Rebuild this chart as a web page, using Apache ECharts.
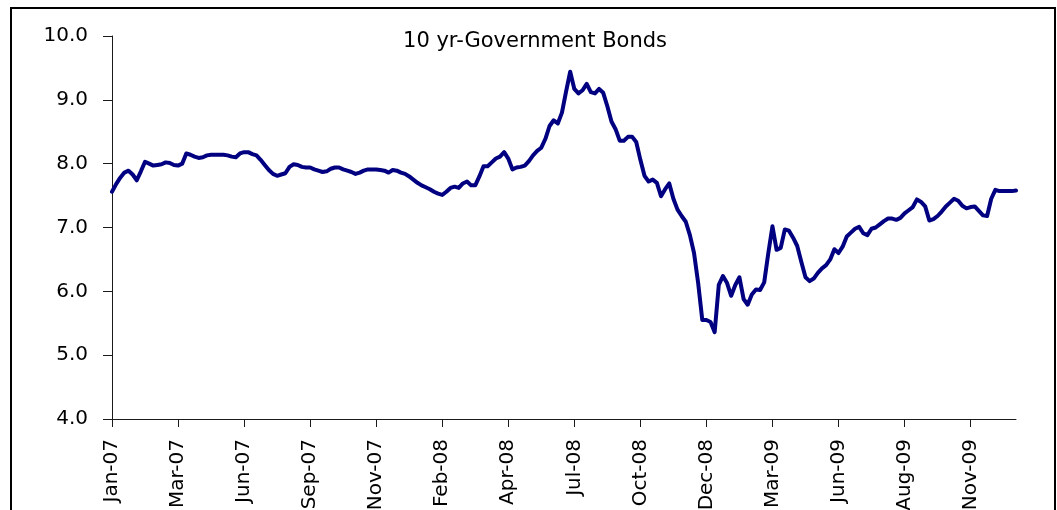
<!DOCTYPE html>
<html>
<head>
<meta charset="utf-8">
<style>
  html, body { margin: 0; padding: 0; background: #ffffff; overflow: hidden; }
  #wrap { position: relative; width: 1057px; height: 510px; }
  #chart { position: absolute; left: 0; top: 0; width: 1057px; height: 510px; }
  /* chart frame: top, left and right edges; the bottom edge runs off the page */
  #frame {
    position: absolute; left: 10px; top: 7px; width: 1042px; height: 560px;
    border: 2px solid #000000; border-bottom: none; pointer-events: none;
    box-sizing: content-box; z-index: 10;
  }
</style>
<script src="https://cdn.jsdelivr.net/npm/echarts@6/dist/echarts.min.js"></script>
</head>
<body>
<div id="wrap">
  <div id="chart"></div>
  <div id="frame"></div>
</div>
<script>
// Indian 10-year government bond yield (%), Jan 2007 - Dec 2009
const chartTitle = '10 yr-Government Bonds';

// Month labels shown along the time axis, one every `pointsPerTick` observations
const tickLabels = [
  'Jan-07', 'Mar-07', 'Jun-07', 'Sep-07', 'Nov-07', 'Feb-08', 'Apr-08',
  'Jul-08', 'Oct-08', 'Dec-08', 'Mar-09', 'Jun-09', 'Aug-09', 'Nov-09'
];
const pointsPerTick = 16;

// Yield observations (%)
const yields2007 = [
  7.56, 7.68, 7.78, 7.86, 7.89, 7.83, 7.74, 7.88, 8.03, 8.00,
  7.97, 7.98, 7.99, 8.02, 8.01, 7.98, 7.97, 8.00, 8.16, 8.14,
  8.11, 8.09, 8.10, 8.13, 8.14, 8.14, 8.14, 8.14, 8.13, 8.11,
  8.10, 8.16, 8.18, 8.18, 8.15, 8.13, 8.06, 7.98, 7.90, 7.84,
  7.81, 7.83, 7.85, 7.95, 7.99, 7.98, 7.95, 7.94, 7.94, 7.91,
  7.89, 7.87, 7.88, 7.92, 7.94, 7.94, 7.91, 7.89, 7.87, 7.84,
  7.86, 7.89, 7.91, 7.91, 7.91, 7.90, 7.89, 7.86, 7.90, 7.89,
  7.86, 7.84, 7.80, 7.75, 7.70, 7.66, 7.63, 7.60, 7.56, 7.53
];
const yields2008 = [
  7.51, 7.56, 7.62, 7.64, 7.62, 7.69, 7.72, 7.66, 7.66, 7.80,
  7.96, 7.96, 8.02, 8.08, 8.11, 8.18, 8.08, 7.91, 7.94, 7.95,
  7.97, 8.04, 8.13, 8.20, 8.25, 8.39, 8.59, 8.68, 8.63, 8.80,
  9.13, 9.44, 9.17, 9.10, 9.15, 9.25, 9.12, 9.10, 9.17, 9.11,
  8.90, 8.66, 8.54, 8.36, 8.36, 8.42, 8.42, 8.34, 8.06, 7.81,
  7.72, 7.75, 7.70, 7.49, 7.60, 7.69, 7.45, 7.28, 7.18, 7.09,
  6.88, 6.60, 6.13, 5.55, 5.55, 5.52, 5.36
];
const yields2009 = [
  6.10, 6.24, 6.13, 5.93, 6.10, 6.22, 5.88, 5.79, 5.95, 6.03,
  6.02, 6.14, 6.60, 7.02, 6.65, 6.68, 6.97, 6.95, 6.84, 6.71,
  6.46, 6.22, 6.16, 6.20, 6.29, 6.36, 6.41, 6.50, 6.66, 6.60,
  6.70, 6.86, 6.92, 6.98, 7.01, 6.91, 6.88, 6.98, 7.00, 7.05,
  7.10, 7.14, 7.14, 7.12, 7.15, 7.22, 7.27, 7.32, 7.44, 7.40,
  7.33, 7.11, 7.13, 7.18, 7.25, 7.33, 7.39, 7.45, 7.42, 7.34,
  7.30, 7.32, 7.33, 7.26, 7.19, 7.18, 7.45, 7.59, 7.57, 7.57,
  7.57, 7.57, 7.58
];

const yields = yields2007.concat(yields2008, yields2009);
const categories = yields.map((_, i) => i);

const chart = echarts.init(document.getElementById('chart'), null, { renderer: 'canvas' });

const axisColor = '#1a1a1a';
const labelFont = 'DejaVu Sans';

chart.setOption({
  animation: false,
  backgroundColor: '#ffffff',
  grid: {
    left: 112, right: 41, top: 36, bottom: 91,
    containLabel: false,
    outerBoundsMode: 'none'
  },
  graphic: [
    {
      type: 'text',
      z: 100,
      x: 535,
      y: 42,
      style: {
        text: chartTitle,
        fill: '#000000',
        font: '21px "DejaVu Sans"',
        align: 'center',
        verticalAlign: 'middle'
      }
    }
  ],
  xAxis: {
    type: 'category',
    data: categories,
    boundaryGap: false,
    axisLine: { show: true, lineStyle: { color: axisColor, width: 1 } },
    axisTick: {
      show: true,
      interval: pointsPerTick - 1,
      length: 8,
      lineStyle: { color: axisColor, width: 1 }
    },
    axisLabel: {
      show: true,
      interval: pointsPerTick - 1,
      rotate: 90,
      margin: 20,
      color: '#000000',
      fontFamily: labelFont,
      fontSize: 20,
      verticalAlign: 'middle',
      padding: [0, 0, 12, 0],
      formatter: (value, idx) => tickLabels[Math.round(idx / pointsPerTick)] || ''
    },
    splitLine: { show: false }
  },
  yAxis: {
    type: 'value',
    min: 4,
    max: 10,
    interval: 1,
    axisLine: { show: true, lineStyle: { color: axisColor, width: 1 } },
    axisTick: { show: true, length: 9, lineStyle: { color: axisColor, width: 1 } },
    axisLabel: {
      color: '#000000',
      fontFamily: labelFont,
      fontSize: 20,
      margin: 24,
      padding: [0, 0, 8, 0],
      formatter: (v) => v.toFixed(1)
    },
    splitLine: { show: false }
  },
  series: [
    {
      type: 'line',
      data: yields,
      showSymbol: false,
      symbol: 'none',
      smooth: false,
      lineStyle: { color: '#000080', width: 4, join: 'round', cap: 'round' }
    }
  ]
});
</script>
</body>
</html>
